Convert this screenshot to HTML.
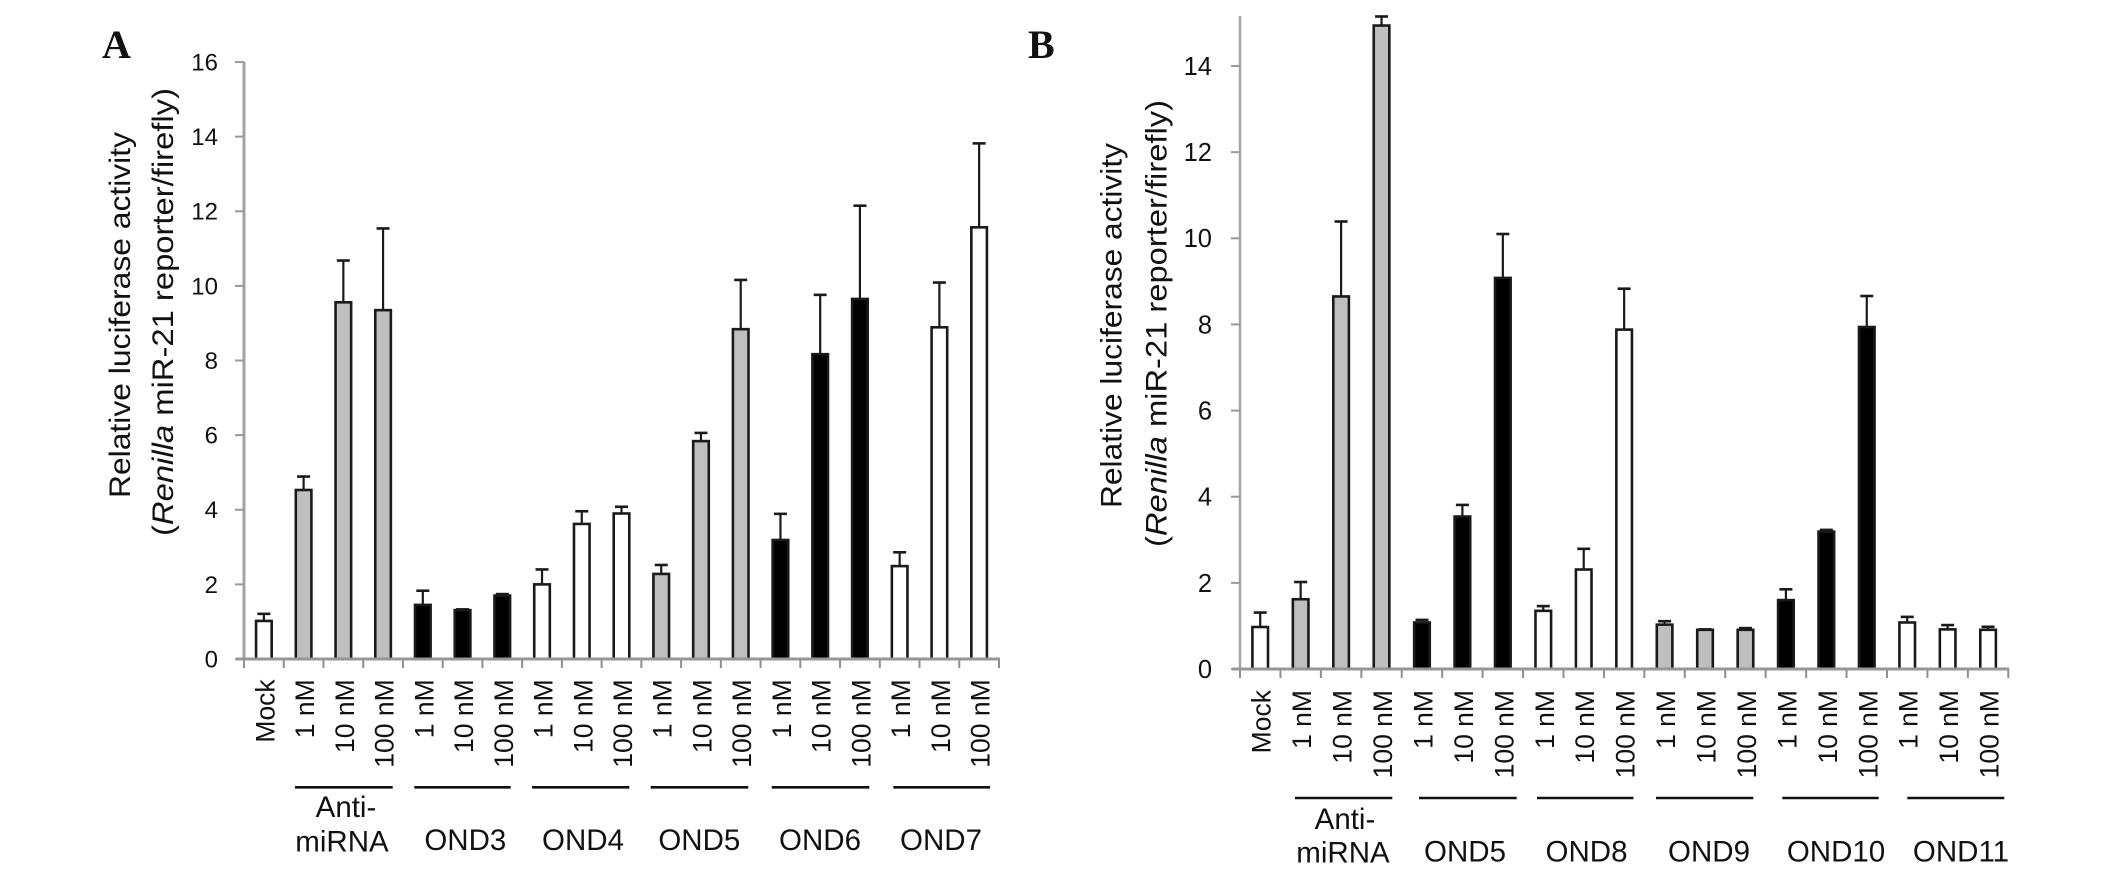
<!DOCTYPE html>
<html lang="en">
<head>
<meta charset="utf-8">
<title>Relative luciferase activity, panels A and B</title>
<style>
  html, body { margin: 0; padding: 0; background: #fff; }
  body { width: 2126px; height: 894px; overflow: hidden; }
  svg { display: block; }
  text { fill: #111; font-family: "Liberation Sans", Arial, sans-serif; }
  .panel-letter { font-family: "Liberation Serif", serif; font-weight: bold; font-size: 40px; }
  .axis-title { font-size: 30px; }
  .group-label { font-size: 29.5px; text-anchor: middle; }
  .group-line { stroke: #111; stroke-width: 2.6; }
</style>
</head>
<body>
<svg id="figure" xmlns="http://www.w3.org/2000/svg" width="2126" height="894" viewBox="0 0 2126 894">
  <rect x="0" y="0" width="2126" height="894" fill="#ffffff"/>

  <g id="panel-a">
    <text class="panel-letter" x="102" y="58">A</text>
    <text class="axis-title" transform="translate(130,498) rotate(-90)" textLength="366" lengthAdjust="spacingAndGlyphs">Relative luciferase activity</text>
    <text class="axis-title" transform="translate(173,536) rotate(-90)" textLength="448" lengthAdjust="spacingAndGlyphs">(<tspan font-style="italic">Renilla</tspan> miR-21 reporter/firefly)</text>

    <line class="group-line" x1="295" x2="392.7" y1="787.3" y2="787.3"/>
    <line class="group-line" x1="414.3" x2="510.7" y1="787.3" y2="787.3"/>
    <line class="group-line" x1="532" x2="629.3" y1="787.3" y2="787.3"/>
    <line class="group-line" x1="650.7" x2="748.3" y1="787.3" y2="787.3"/>
    <line class="group-line" x1="771.7" x2="869.3" y1="787.3" y2="787.3"/>
    <line class="group-line" x1="893.3" x2="990" y1="787.3" y2="787.3"/>

    <text class="group-label" x="346" y="817">Anti-</text>
    <text class="group-label" x="342" y="851.5">miRNA</text>
    <text class="group-label" x="465.3" y="850">OND3</text>
    <text class="group-label" x="583" y="850">OND4</text>
    <text class="group-label" x="699.3" y="850">OND5</text>
    <text class="group-label" x="820" y="850">OND6</text>
    <text class="group-label" x="941" y="850">OND7</text>
  </g>

  <g id="panel-b">
    <text class="panel-letter" x="1028" y="58">B</text>
    <text class="axis-title" transform="translate(1121.7,508) rotate(-90)" textLength="365" lengthAdjust="spacingAndGlyphs">Relative luciferase activity</text>
    <text class="axis-title" transform="translate(1166.7,547) rotate(-90)" textLength="447" lengthAdjust="spacingAndGlyphs">(<tspan font-style="italic">Renilla</tspan> miR-21 reporter/firefly)</text>

    <line class="group-line" x1="1295" x2="1392.3" y1="798" y2="798"/>
    <line class="group-line" x1="1419" x2="1516.7" y1="798" y2="798"/>
    <line class="group-line" x1="1537" x2="1633.5" y1="798" y2="798"/>
    <line class="group-line" x1="1656" x2="1753.3" y1="798" y2="798"/>
    <line class="group-line" x1="1782.3" x2="1878.7" y1="798" y2="798"/>
    <line class="group-line" x1="1907.3" x2="2004.3" y1="798" y2="798"/>

    <text class="group-label" x="1345" y="829">Anti-</text>
    <text class="group-label" x="1343" y="862.7">miRNA</text>
    <text class="group-label" x="1465" y="861.7">OND5</text>
    <text class="group-label" x="1586.5" y="861.7">OND8</text>
    <text class="group-label" x="1709" y="861.7">OND9</text>
    <text class="group-label" x="1836" y="861.7">OND10</text>
    <text class="group-label" x="1961" y="861.7">OND11</text>
  </g>
</svg>

<script>
var doseLabels = ["Mock",
  "1 nM","10 nM","100 nM","1 nM","10 nM","100 nM","1 nM","10 nM","100 nM",
  "1 nM","10 nM","100 nM","1 nM","10 nM","100 nM","1 nM","10 nM","100 nM"];

var panelAGroups = ["Mock",
  "Anti-miRNA","Anti-miRNA","Anti-miRNA","OND3","OND3","OND3","OND4","OND4","OND4",
  "OND5","OND5","OND5","OND6","OND6","OND6","OND7","OND7","OND7"];
var panelAValues = [1.02, 4.53,9.56,9.35, 1.45,1.31,1.70, 2.00,3.62,3.90, 2.28,5.84,8.84, 3.19,8.17,9.65, 2.49,8.89,11.57];
var panelAErrors = [0.19, 0.36,1.12,2.19, 0.38,0.02,0.04, 0.40,0.34,0.18, 0.24,0.22,1.32, 0.70,1.59,2.50, 0.37,1.20,2.25];
var panelATicks = [0,2,4,6,8,10,12,14,16];

var panelBGroups = ["Mock",
  "Anti-miRNA","Anti-miRNA","Anti-miRNA","OND5","OND5","OND5","OND8","OND8","OND8",
  "OND9","OND9","OND9","OND10","OND10","OND10","OND11","OND11","OND11"];
var panelBValues = [0.975, 1.62,8.65,14.94, 1.08,3.54,9.08, 1.35,2.31,7.88, 1.03,0.91,0.91, 1.60,3.19,7.94, 1.08,0.92,0.91];
var panelBErrors = [0.335, 0.40,1.74,0.21, 0.06,0.27,1.02, 0.11,0.48,0.95, 0.08,0.01,0.04, 0.25,0.04,0.72, 0.13,0.10,0.07];
var panelBTicks = [0,2,4,6,8,10,12,14];

var GRAY = "#bfbfbf", BLACK = "#000000", WHITE = "#ffffff";
var panelAFills = {"Mock":WHITE,"Anti-miRNA":GRAY,"OND3":BLACK,"OND4":WHITE,"OND5":GRAY,"OND6":BLACK,"OND7":WHITE};
var panelBFills = {"Mock":WHITE,"Anti-miRNA":GRAY,"OND5":BLACK,"OND8":WHITE,"OND9":GRAY,"OND10":BLACK,"OND11":WHITE};

var SVG_NS = "http://www.w3.org/2000/svg";

function make(parent, tag, props) {
  var el = document.createElementNS(SVG_NS, tag);
  for (var k in props) { el.setAttribute(k, props[k]); }
  parent.appendChild(el);
  return el;
}

function drawPanel(cfg) {
  var parent = document.getElementById(cfg.id);
  var n = cfg.labels.length;
  var band = (cfg.right - cfg.left) / n;
  function xCenter(i) { return cfg.left + band * (i + 0.5); }
  function yPos(v) { return cfg.y0 - v * cfg.unit; }

  for (var i = 0; i < n; i++) {
    var cx = xCenter(i);
    var value = cfg.values[i];
    var tip = yPos(value + cfg.errors[i]);

    var errLine = make(parent, "line", {x1:cx, x2:cx, y1:tip, y2:yPos(value), stroke:"#1a1a1a", "stroke-width":2.2});
    
    

    var errCap = make(parent, "line", {x1:cx-6.5, x2:cx+6.5, y1:tip, y2:tip, stroke:"#1a1a1a", "stroke-width":2.6});
    
    

    var bar = make(parent, "rect", {
      x: cx - 7.8, y: yPos(value), width: 15.6,
      height: Math.max(0, cfg.y0 - yPos(value)),
      fill: cfg.fills[cfg.groups[i]], stroke: "#1a1a1a", "stroke-width": 2.6
    });
    
    

    var label = make(parent, "text", {
      transform: "translate(" + (cx + 10.5) + "," + cfg.labelTop + ") rotate(-90)",
      "text-anchor": "end", "font-size": 26.5
    });
    label.textContent = cfg.labels[i];
    
    

    var xTick = make(parent, "line", {x1:cfg.left+band*(i), x2:cfg.left+band*(i), y1:cfg.y0, y2:cfg.y0+9, stroke:"#8f8f8f", "stroke-width":2});
    
    
  }

  var lastTick = make(parent, "line", {x1:cfg.right, x2:cfg.right, y1:cfg.y0, y2:cfg.y0+9, stroke:"#8f8f8f", "stroke-width":2});
  
  

  var yAxis = make(parent, "line", {x1:cfg.left, x2:cfg.left, y1:cfg.axisTop, y2:cfg.y0, stroke:"#a3a3a3", "stroke-width":cfg.axisWidth});
  
  

  var xAxis = make(parent, "line", {x1:cfg.left-8, x2:cfg.right+1, y1:cfg.y0, y2:cfg.y0, stroke:"#969696", "stroke-width":3});
  
  

  cfg.ticks.forEach(function (t) {
    var yTick = make(parent, "line", {x1:cfg.left-9, x2:cfg.left, y1:yPos(t), y2:yPos(t), stroke:"#999999", "stroke-width":2});
    
    

    var yLabel = make(parent, "text", {
      x: cfg.tickLabelRight, y: yPos(t) + cfg.tickSize * 0.35,
      "text-anchor": "end", "font-size": cfg.tickSize
    });
    yLabel.textContent = String(t);
    
    
  });
}

drawPanel({
  id: "panel-a", labels: doseLabels, groups: panelAGroups, values: panelAValues,
  errors: panelAErrors, ticks: panelATicks, fills: panelAFills,
  left: 244, right: 999, y0: 659, unit: 37.31, axisTop: 62, axisWidth: 3,
  labelTop: 679.3, tickLabelRight: 218, tickSize: 24
});

drawPanel({
  id: "panel-b", labels: doseLabels, groups: panelBGroups, values: panelBValues,
  errors: panelBErrors, ticks: panelBTicks, fills: panelBFills,
  left: 1240, right: 2008.3, y0: 669, unit: 43.07, axisTop: 16, axisWidth: 2.4,
  labelTop: 690, tickLabelRight: 1212, tickSize: 25.5
});
</script>
</body>
</html>
